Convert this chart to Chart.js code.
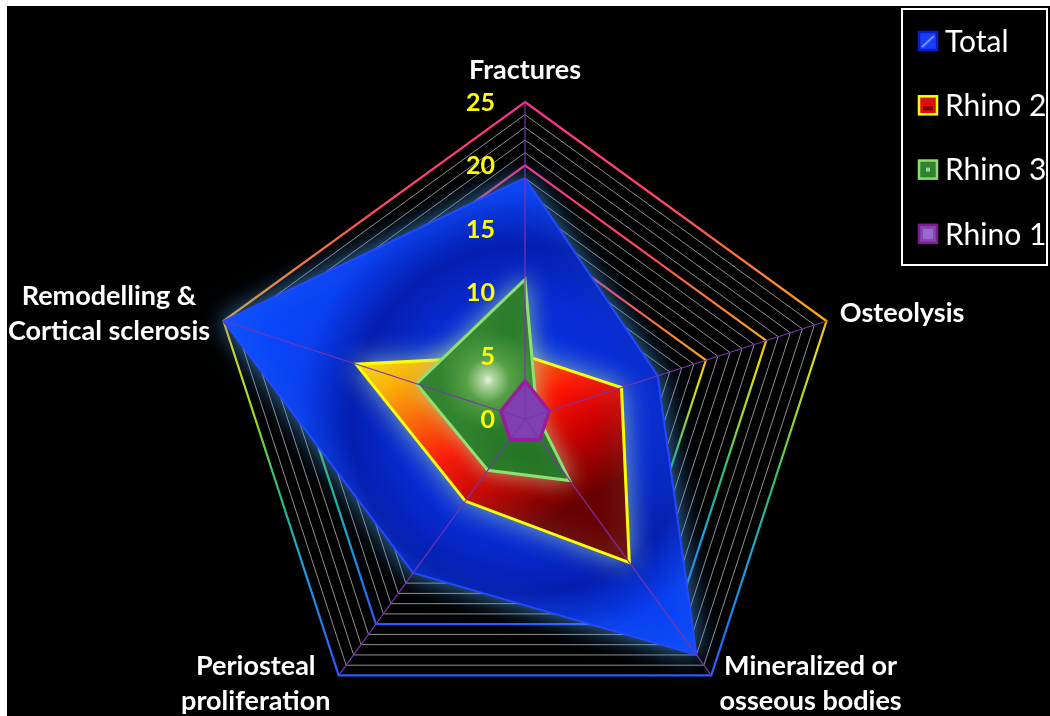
<!DOCTYPE html>
<html>
<head>
<meta charset="utf-8">
<script src="https://cdn.jsdelivr.net/npm/chart.js@4.4.1/dist/chart.umd.min.js"></script>
<style>
html,body{margin:0;padding:0;background:#ffffff;overflow:hidden;}
canvas{display:block;}
</style>
</head>
<body>
<canvas id="c" width="1050" height="716"></canvas>
<script>
// ---- data ----
const categories = [
  ["Fractures"],
  ["Osteolysis"],
  ["Mineralized or", "osseous bodies"],
  ["Periosteal", "proliferation"],
  ["Remodelling &", "Cortical sclerosis"]
];
const seriesNames = ["Total", "Rhino 2", "Rhino 3", "Rhino 1"];
const totalValues  = [19, 11, 23, 15, 25];
const rhino2Values = [5, 8, 14, 8, 14];
const rhino3Values = [11, 1, 6, 5, 9];
const rhino1Values = [3, 2, 2, 2, 2];
const tickLabels   = [0, 5, 10, 15, 20, 25];
const axisMin = 0, axisMax = 25, minorStep = 1, majorStep = 5;

// ---- styles ----
const legendFill   = ['#1a3cff', '#d81010', '#2f842f', '#8446b4'];
const legendBorder = ['#0a1ccc', '#ffff00', '#8fd86c', '#7e1e8e'];
const borderColors = ['#2448ff', '#ffff00', '#8fe070', '#9a1c9c'];
const glow = [
  {color: 'rgba(70,150,225,0.85)', blur: 26},
  {color: 'rgba(160,205,175,0.75)', blur: 26},
  {color: 'rgba(175,220,160,0.7)', blur: 22},
  {color: 'rgba(0,0,0,0)', blur: 0}
];

function bounds(scale, data) {
  let l = Infinity, r = -Infinity, t = Infinity, b = -Infinity;
  data.forEach((v, i) => {
    const p = scale.getPointPositionForValue(i, v);
    l = Math.min(l, p.x); r = Math.max(r, p.x); t = Math.min(t, p.y); b = Math.max(b, p.y);
  });
  return {l, r, t, b};
}

function totalFill(c) {
  const s = c.chart.scales.r;
  if (!s || !s.drawingArea) return '#0a40f0';
  const g = c.chart.ctx.createRadialGradient(s.xCenter, s.yCenter, 0, s.xCenter, s.yCenter, s.drawingArea);
  g.addColorStop(0, '#0a38ee');
  g.addColorStop(0.38, '#082cd4');
  g.addColorStop(0.55, '#051eb0');
  g.addColorStop(0.72, '#0a40f2');
  g.addColorStop(1, '#0a4eff');
  return g;
}
function rhino2Fill(c) {
  const s = c.chart.scales.r;
  if (!s || !s.drawingArea) return '#ff2000';
  const bb = bounds(s, rhino2Values);
  const g = c.chart.ctx.createLinearGradient(bb.l, bb.t, bb.l + (bb.r - bb.l) * 0.45, bb.b);
  g.addColorStop(0, '#ffe600');
  g.addColorStop(0.18, '#ffb000');
  g.addColorStop(0.4, '#ff5200');
  g.addColorStop(0.56, '#ff1000');
  g.addColorStop(0.76, '#c40000');
  g.addColorStop(1, '#680000');
  return g;
}
function rhino3Fill(c) {
  const s = c.chart.scales.r;
  if (!s || !s.drawingArea) return '#2a7a2a';
  const bb = bounds(s, rhino3Values);
  const cx = (bb.l + bb.r) / 2 - 5, cy = (bb.t + bb.b) / 2;
  const g = c.chart.ctx.createRadialGradient(cx, cy, 0, cx, cy, 110);
  g.addColorStop(0, '#eef5e6');
  g.addColorStop(0.05, '#b4d8a4');
  g.addColorStop(0.2, '#56a046');
  g.addColorStop(0.45, '#2a7e2a');
  g.addColorStop(1, '#1c6c1c');
  return g;
}

function gridColor(c) {
  const v = c.tick ? c.tick.value : 0;
  if (v % majorStep !== 0) return '#8e8e8e';
  const s = c.scale;
  const r = s.getDistanceFromCenterForValue(v);
  const g = c.chart.ctx.createLinearGradient(0, s.yCenter - r, 0, s.yCenter + r * Math.cos(Math.PI / 5));
  g.addColorStop(0, '#ff2e92');
  g.addColorStop(0.2, '#ff4a5a');
  g.addColorStop(0.36, '#ff9e1e');
  g.addColorStop(0.43, '#eee000');
  g.addColorStop(0.55, '#9ada28');
  g.addColorStop(0.66, '#34c070');
  g.addColorStop(0.8, '#10a8d8');
  g.addColorStop(1, '#2a58ff');
  return g;
}

// ---- plugins ----
const bgPlugin = {
  id: 'bg',
  beforeDraw(chart) {
    const ctx = chart.ctx;
    ctx.save();
    ctx.fillStyle = '#ffffff';
    ctx.fillRect(0, 0, chart.width, chart.height);
    ctx.fillStyle = '#000000';
    ctx.fillRect(7, 6, chart.width - 7, chart.height - 6);
    ctx.restore();
  }
};

let drawSeq = [];
function setGlow(ctx, idx) {
  const g = glow[idx] || glow[3];
  ctx.shadowColor = g.color;
  ctx.shadowBlur = g.blur;
  ctx.shadowOffsetX = 0;
  ctx.shadowOffsetY = 0;
}
const glowPlugin = {
  id: 'glow',
  beforeDatasetsDraw(chart) {
    drawSeq = chart.getSortedVisibleDatasetMetas().map(m => m.index).reverse();
    if (drawSeq.length) setGlow(chart.ctx, drawSeq[0]);
  },
  afterDatasetDraw(chart, args) {
    const k = drawSeq.indexOf(args.index);
    if (k >= 0 && k + 1 < drawSeq.length) setGlow(chart.ctx, drawSeq[k + 1]);
    else setGlow(chart.ctx, 3);
  },
  afterDatasetsDraw(chart) {
    const ctx = chart.ctx;
    setGlow(ctx, 3);
    const s = chart.scales.r;
    // angle lines on top of the series
    ctx.save();
    ctx.strokeStyle = '#7a34b0';
    ctx.lineWidth = 1.2;
    for (let i = 0; i < categories.length; i++) {
      const p = s.getPointPositionForValue(i, s.max);
      ctx.beginPath();
      ctx.moveTo(s.xCenter, s.yCenter);
      ctx.lineTo(p.x, p.y);
      ctx.stroke();
    }
    ctx.restore();
    // tick labels
    ctx.save();
    ctx.font = 'bold 25px Lato';
    ctx.fillStyle = '#ffff00';
    ctx.textAlign = 'right';
    ctx.textBaseline = 'middle';
    tickLabels.forEach(v => {
      const y = s.yCenter - s.getDistanceFromCenterForValue(v);
      ctx.fillText(String(v), s.xCenter - 30, y + 1);
    });
    ctx.restore();
  }
};

const labelPlugin = {
  id: 'labels',
  afterDraw(chart) {
    const s = chart.scales.r, ctx = chart.ctx;
    ctx.save();
    ctx.font = 'bold 27px Lato';
    ctx.fillStyle = '#ffffff';
    ctx.textAlign = 'center';
    ctx.textBaseline = 'middle';
    const lh = 35, pad = 14;
    categories.forEach((lines, i) => {
      const a = s.getIndexAngle(i);
      const p = s.getPointPosition(i, s.drawingArea + pad);
      const sn = Math.sin(a), cs = Math.cos(a);
      const w = Math.max(...lines.map(t => ctx.measureText(t).width));
      const h = lines.length * lh;
      let cx = p.x;
      if (sn > 0.1) cx = p.x + w / 2; else if (sn < -0.1) cx = p.x - w / 2;
      const cy = (Math.abs(sn) < 0.1 && cs > 0) ? p.y - h / 2 : p.y - 3;
      lines.forEach((t, k) => ctx.fillText(t, cx, cy - h / 2 + lh * (k + 0.5)));
    });
    ctx.restore();

    // legend
    const box = {x: 902, y: 9, w: 145, h: 256};
    ctx.save();
    ctx.fillStyle = '#000000';
    ctx.fillRect(box.x, box.y, box.w, box.h);
    ctx.strokeStyle = '#ffffff';
    ctx.lineWidth = 2;
    ctx.strokeRect(box.x, box.y, box.w, box.h);
    ctx.font = '30px Lato';
    ctx.textAlign = 'left';
    ctx.textBaseline = 'middle';
    chart.data.datasets.forEach((ds, i) => {
      const cy = box.y + 32 + i * 64.3;
      const sx = 918, sy = cy - 10, sz = 20;
      ctx.fillStyle = legendFill[i];
      ctx.fillRect(sx, sy, sz, sz);
      ctx.strokeStyle = legendBorder[i];
      ctx.lineWidth = 2.5;
      ctx.strokeRect(sx + 1, sy + 1, sz - 2, sz - 2);
      if (i === 0) {
        ctx.strokeStyle = '#6f9bff';
        ctx.lineWidth = 2;
        ctx.beginPath();
        ctx.moveTo(sx + 4, sy + sz - 4);
        ctx.lineTo(sx + sz - 4, sy + 5);
        ctx.stroke();
      } else if (i === 2) {
        ctx.fillStyle = '#9fce8c';
        ctx.fillRect(sx + 8, sy + 8, 4, 4);
      } else if (i === 3) {
        ctx.fillStyle = '#9a6ac8';
        ctx.fillRect(sx + 5, sy + 5, sz - 10, sz - 10);
      } else if (i === 1) {
        ctx.fillStyle = '#8a0000';
        ctx.fillRect(sx + 5, sy + 11, sz - 10, 4);
      }
      ctx.fillStyle = '#ffffff';
      ctx.fillText(ds.label, 945, cy + 1);
    });
    ctx.restore();
  }
};

// ---- chart ----
const seriesValues = [totalValues, rhino2Values, rhino3Values, rhino1Values];
const fills = [totalFill, rhino2Fill, rhino3Fill, '#7f40b0'];
const borderWidths = [2, 3, 3, 3.5];

new Chart(document.getElementById('c'), {
  type: 'radar',
  data: {
    labels: categories,
    datasets: seriesNames.map((name, i) => ({
      label: name,
      data: seriesValues[i],
      order: seriesNames.length - i,
      fill: true,
      backgroundColor: fills[i],
      borderColor: borderColors[i],
      borderWidth: borderWidths[i],
      borderJoinStyle: 'miter',
      pointRadius: 0,
      pointHoverRadius: 0,
      tension: 0,
      clip: false
    }))
  },
  options: {
    responsive: false,
    animation: false,
    devicePixelRatio: 1,
    layout: {padding: 0},
    plugins: {legend: {display: false}, tooltip: {enabled: false}},
    scales: {
      r: {
        min: axisMin,
        max: axisMax,
        ticks: {stepSize: minorStep, display: false},
        grid: {
          color: gridColor,
          lineWidth: (c) => (c.tick && c.tick.value % majorStep === 0) ? 2.2 : 1
        },
        angleLines: {display: false},
        pointLabels: {display: false},
        afterFit: (s) => { s.xCenter = 525; s.yCenter = 419; s.drawingArea = 317; }
      }
    }
  },
  plugins: [bgPlugin, glowPlugin, labelPlugin]
});
</script>
</body>
</html>
